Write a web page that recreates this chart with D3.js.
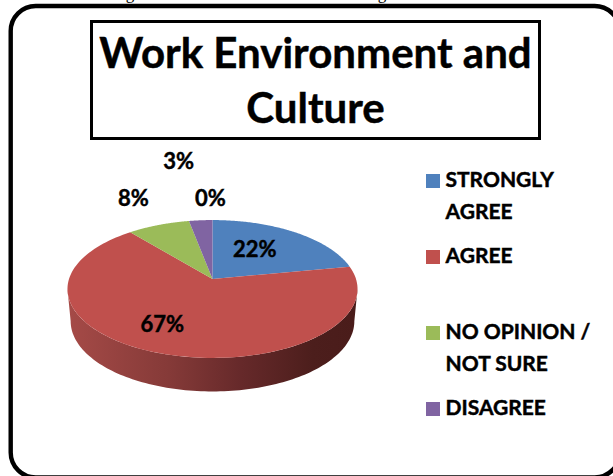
<!DOCTYPE html>
<html>
<head>
<meta charset="utf-8">
<script src="https://cdn.jsdelivr.net/npm/d3@7/dist/d3.min.js"></script>
<style>
html, body { margin: 0; padding: 0; background: #fff; }
svg { display: block; }
text { font-family: Lato, "Open Sans", sans-serif; font-weight: 700; fill: #000; }
.heavy { stroke: #000; stroke-width: 0.45px; }
</style>
</head>
<body>
<svg id="chart" width="613" height="476"></svg>
<script>
// Survey responses, in percent
const values = [22, 67, 8, 3, 0];
const sliceColors = ["#4f81bd", "#c0504d", "#9bbb59", "#8064a2", "#4bacc6"];
const labelTexts = ["22%", "67%", "8%", "3%", "0%"];
const legendLines = [["STRONGLY", "AGREE"], ["AGREE"], ["NO OPINION /", "NOT SURE"], ["DISAGREE"]];
const titleLines = ["Work Environment and", "Culture"];

// Layout
const width = 613, height = 476;
const apex = { x: 212.5, y: 279 };
const rimX = 143.5, rimY = 67.5, perspective = 0.145, depth = 32;
const labelShift = [[-40, 25], [6, -20.5], [-25, -19], [-22, -51.3], [-2, -14]];
const legendRowY = [187, 263, 339, 415];
const legendLineGap = 32;

const svg = d3.select("#chart");

// Tilted-disc projection: angle is clockwise from twelve o'clock, h is 0 on the
// top face and 1 on the lower rim of the side wall.
function project(angle, h = 0) {
  const u = Math.sin(angle), v = Math.cos(angle);
  const d = 1 + perspective * v;
  const shrink = 1 - 0.022 * h;
  return [apex.x + shrink * rimX * u / d, apex.y - rimY * v / d + h * (depth - 1.5 * v)];
}

const pieLayout = d3.pie().value(d => d).sort(null);
const slices = pieLayout(values);
const sweep = (a0, a1, h) => d3.range(0, 121).map(i => project(a0 + (a1 - a0) * i / 120, h));
const line = d3.line();

// Page frame running off the right and bottom edges
svg.append("rect")
  .attr("x", 10.7).attr("y", 6)
  .attr("width", 609).attr("height", 471.5)
  .attr("rx", 25).attr("ry", 25)
  .attr("fill", "#fff").attr("stroke", "#000").attr("stroke-width", 4.4);

// Caption line above the frame, cut off by the top of the page
svg.append("g").selectAll("text").data([130, 382]).join("text")
  .attr("x", d => d).attr("y", -1.2)
  .attr("text-anchor", "middle")
  .style("font-family", "'Liberation Serif', serif")
  .style("font-weight", 400)
  .style("font-size", "17px")
  .text("g");

// Title box
svg.append("rect")
  .attr("x", 91.5).attr("y", 21.5)
  .attr("width", 448).attr("height", 117)
  .attr("fill", "#fff").attr("stroke", "#000").attr("stroke-width", 3);

svg.append("g").selectAll("text").data(titleLines).join("text")
  .attr("class", "heavy")
  .attr("x", 315.5)
  .attr("y", (d, i) => 68 + i * 55)
  .attr("text-anchor", "middle")
  .style("font-size", "42px")
  .text(d => d);

// Side wall shading
const defs = svg.append("defs");
const wall = defs.append("linearGradient")
  .attr("id", "wallShade")
  .attr("gradientUnits", "userSpaceOnUse")
  .attr("x1", apex.x - rimX).attr("x2", apex.x + rimX).attr("y1", 0).attr("y2", 0);
[[0, "#a54a47"], [0.35, "#853a38"], [0.6, "#66292a"], [0.85, "#4c1e1c"], [1, "#4a1c1a"]]
  .forEach(([o, c]) => wall.append("stop").attr("offset", o).attr("stop-color", c));

// The wall is only visible along the near half of the disc
const wallStart = Math.PI / 2 + Math.asin(perspective);
const wallEnd = 3 * Math.PI / 2 - Math.asin(perspective);
svg.append("path")
  .attr("d", line(sweep(wallStart, wallEnd, 0).concat(sweep(wallEnd, wallStart, 1))) + "Z")
  .attr("fill", "url(#wallShade)");

// Top faces
svg.append("g").selectAll("path").data(slices).join("path")
  .attr("d", d => line([[apex.x, apex.y], ...sweep(d.startAngle, d.endAngle, 0)]) + "Z")
  .attr("fill", (d, i) => sliceColors[i]);

// Percentage labels, placed from each slice's rim midpoint
svg.append("g").selectAll("text").data(slices).join("text")
  .attr("class", "heavy")
  .attr("x", (d, i) => project((d.startAngle + d.endAngle) / 2)[0] + labelShift[i][0])
  .attr("y", (d, i) => project((d.startAngle + d.endAngle) / 2)[1] + labelShift[i][1])
  .attr("text-anchor", "middle")
  .style("font-size", "22px")
  .text((d, i) => labelTexts[i]);

// Legend
const legend = svg.append("g").selectAll("g").data(legendLines).join("g");
legend.append("rect")
  .attr("x", 426).attr("y", (d, i) => legendRowY[i] - 13)
  .attr("width", 14).attr("height", 14)
  .attr("fill", (d, i) => sliceColors[i]);
legend.each(function (rows, i) {
  d3.select(this).selectAll("text").data(rows).join("text")
    .attr("class", "heavy")
    .attr("x", 445.5)
    .attr("y", (d, j) => legendRowY[i] + j * legendLineGap)
    .style("font-size", "21px")
    .text(d => d);
});
</script>
</body>
</html>
